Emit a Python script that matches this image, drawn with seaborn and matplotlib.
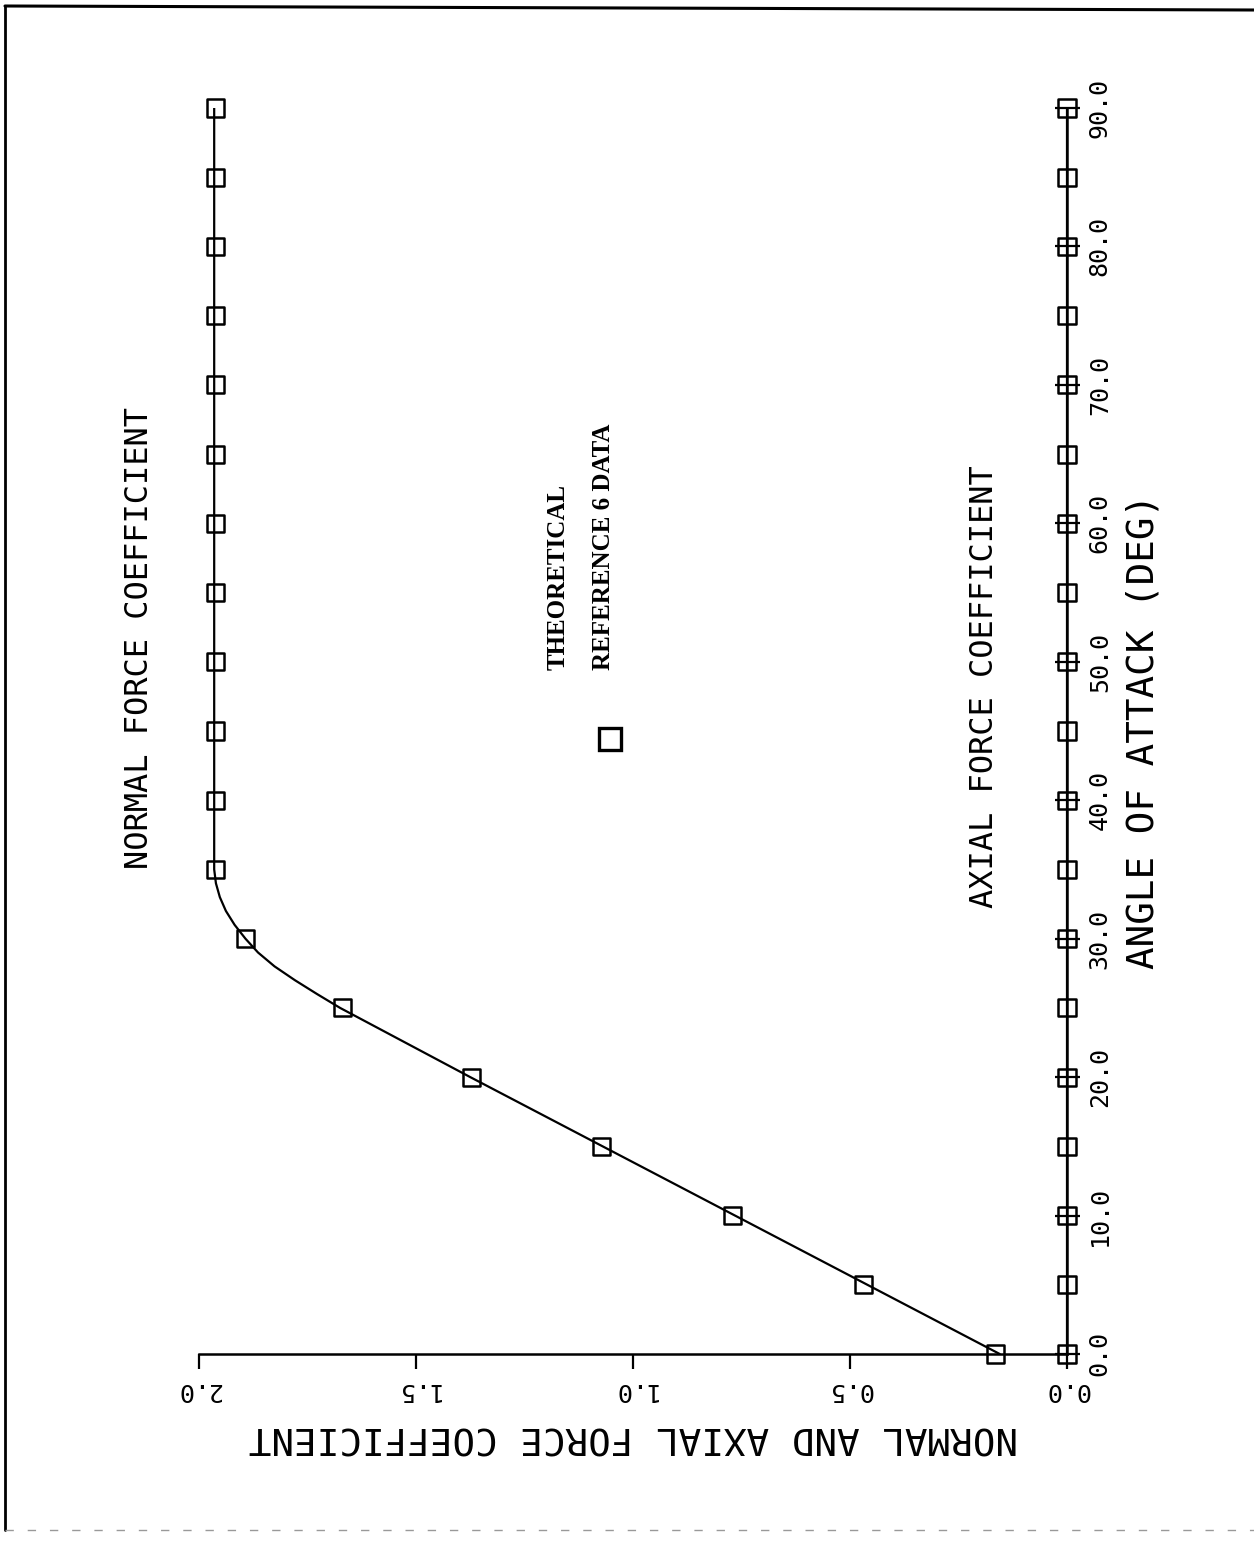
import matplotlib
matplotlib.use("Agg")
import matplotlib.pyplot as plt
import seaborn as sns
import pandas as pd
from matplotlib.lines import Line2D

# ---- data ----
angles = [0, 5, 10, 15, 20, 25, 30, 35, 40, 45, 50, 55, 60, 65, 70, 75, 80, 85, 90]
normal_data = [0.164, 0.468, 0.770, 1.072, 1.373, 1.669, 1.892, 1.963, 1.963, 1.963,
               1.963, 1.963, 1.963, 1.963, 1.963, 1.963, 1.963, 1.963, 1.963]
axial_data = [0.0] * 19

theory_angles = [0, 5, 10, 15, 20, 25, 26, 27, 28, 29, 30, 31, 32, 33, 34, 35, 90]
normal_theory = [0.155, 0.46, 0.765, 1.07, 1.375, 1.675, 1.728, 1.779, 1.826, 1.864,
                 1.893, 1.918, 1.938, 1.952, 1.961, 1.965, 1.965]
axial_theory_angles = [0, 90]
axial_theory = [0.0, 0.0]

x_ticks = [0.0, 0.5, 1.0, 1.5, 2.0]
x_ticklabels = ["0.0", "0.5", "1.0", "1.5", "2.0"]
y_ticks = [0, 10, 20, 30, 40, 50, 60, 70, 80, 90]
y_ticklabels = ["0.0", "10.0", "20.0", "30.0", "40.0", "50.0", "60.0", "70.0", "80.0", "90.0"]

sns.set_theme(style="white")
plt.rcParams["font.family"] = ["DejaVu Sans Mono", "DejaVu Sans"]

fig = plt.figure(figsize=(12.54, 15.43), dpi=100)
ax = fig.add_axes([199 / 1254, 1 - 1354 / 1543, (1067 - 199) / 1254, (1354 - 108) / 1543])

df_nt = pd.DataFrame({"coef": normal_theory, "alpha": theory_angles})
df_at = pd.DataFrame({"coef": axial_theory, "alpha": axial_theory_angles})
df_nd = pd.DataFrame({"coef": normal_data, "alpha": angles})
df_ad = pd.DataFrame({"coef": axial_data, "alpha": angles})

sns.lineplot(data=df_nt, x="coef", y="alpha", sort=False, estimator=None,
             color="black", linewidth=1.6, ax=ax)
sns.lineplot(data=df_at, x="coef", y="alpha", sort=False, estimator=None,
             color="black", linewidth=1.6, ax=ax)
for d in (df_nd, df_ad):
    sns.scatterplot(data=d, x="coef", y="alpha", marker="s", s=150,
                    facecolor="none", edgecolor="black", linewidth=1.8,
                    ax=ax, clip_on=False, zorder=5)

ax.set_xlim(2.0, 0.0)
ax.set_ylim(0, 90)

for s in ("top", "left"):
    ax.spines[s].set_visible(False)
for s in ("bottom", "right"):
    ax.spines[s].set_color("black")
    ax.spines[s].set_linewidth(1.8)

ax.set_xticks(x_ticks)
ax.set_xticklabels(x_ticklabels)
ax.set_yticks(y_ticks)
ax.set_yticklabels(y_ticklabels)
ax.yaxis.tick_right()
ax.yaxis.set_label_position("right")
ax.tick_params(axis="x", bottom=True, direction="out", length=11, width=1.6,
               pad=6, labelsize=18, labelrotation=180, colors="black")
ax.tick_params(axis="y", right=True, left=False, direction="inout", length=18, width=1.6,
               pad=6, labelsize=18, labelrotation=90, colors="black")
for lab in ax.get_yticklabels():
    lab.set_va("center")

ax.set_xlabel("NORMAL AND AXIAL FORCE COEFFICIENT", fontsize=27, rotation=180,
              labelpad=12, color="black")
ax.set_ylabel("ANGLE OF ATTACK (DEG)", fontsize=27, rotation=90, labelpad=10,
              color="black")

ax.text(2.136, 35.0, "NORMAL FORCE COEFFICIENT", rotation=90, fontsize=23,
        ha="center", va="bottom", clip_on=False, color="black")
ax.text(0.189, 32.2, "AXIAL FORCE COEFFICIENT", rotation=90, fontsize=23,
        ha="center", va="bottom", color="black")
serif = ["Liberation Serif", "DejaVu Serif"]
ax.text(1.173, 49.4, "THEORETICAL", rotation=90, fontsize=18, fontweight="bold",
        family=serif, ha="center", va="bottom", color="black")
ax.text(1.069, 49.4, "REFERENCE 6 DATA", rotation=90, fontsize=18, fontweight="bold",
        family=serif, ha="center", va="bottom", color="black")
ax.plot([1.053], [44.4], marker="s", markersize=16, markerfacecolor="none",
        markeredgecolor="black", markeredgewidth=2.4, linestyle="none")

# page border from the scan
fig.add_artist(Line2D([5 / 1254, 1.0], [1 - 6 / 1543, 1 - 10 / 1543],
                      transform=fig.transFigure, color="black", linewidth=2.2))
fig.add_artist(Line2D([5 / 1254, 5 / 1254], [1 - 6 / 1543, 1 - 1530 / 1543],
                      transform=fig.transFigure, color="black", linewidth=2.0))
fig.add_artist(Line2D([5 / 1254, 1.0], [1 - 1530 / 1543, 1 - 1530 / 1543],
                      transform=fig.transFigure, color="0.6", linewidth=1.0,
                      linestyle=(0, (6, 10))))

fig.savefig("out.png", dpi=100, facecolor="white")
